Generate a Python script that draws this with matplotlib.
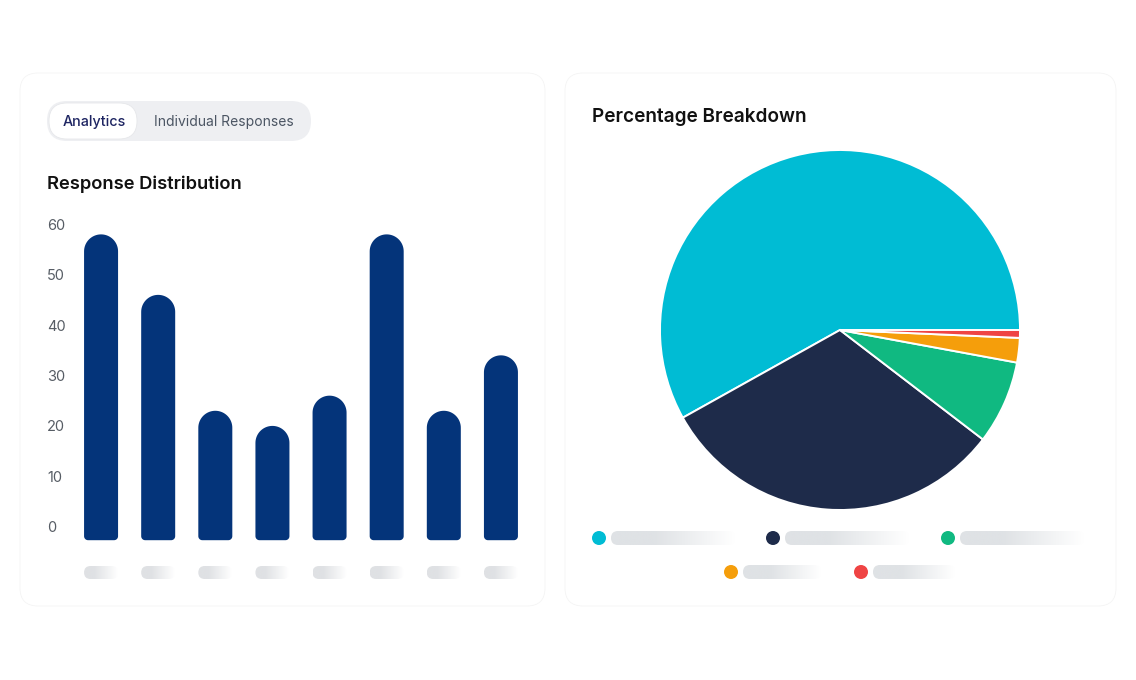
import matplotlib
matplotlib.use('Agg')
import matplotlib.pyplot as plt
import numpy as np
from matplotlib.patches import FancyBboxPatch, PathPatch, Circle
from matplotlib.path import Path
from matplotlib.transforms import IdentityTransform
from matplotlib.colors import to_rgba

plt.rcParams['font.family'] = ['Inter', 'DejaVu Sans']

# ---------------- data ----------------
bar_values = [58, 46, 23, 20, 26, 58, 23, 34]
y_ticks = [0, 10, 20, 30, 40, 50, 60]
pie_values = [58.1, 31.5, 7.5, 2.2, 0.7]
pie_colors = ['#00bcd4', '#1e2b4a', '#10b981', '#f59e0b', '#ef4444']
tab_labels = ['Analytics', 'Individual Responses']
bar_title = 'Response Distribution'
pie_title = 'Percentage Breakdown'

# ---------------- figure ----------------
W, H = 1136, 680
DPI = 100
fig = plt.figure(figsize=(W / DPI, H / DPI), dpi=DPI)
fig.patch.set_facecolor('white')

ov = fig.add_axes([0, 0, 1, 1], zorder=0)
ov.set_xlim(0, W)
ov.set_ylim(H, 0)
ov.axis('off')


def rrect(ax, x, y, w, h, r, **kw):
    p = FancyBboxPatch((x, y), w, h, boxstyle=f"round,pad=0,rounding_size={r}",
                       transform=ax.transData, **kw)
    ax.add_patch(p)
    return p


def grad_pill(ax, x, y, w, h, c0='#dcdfe3', c1='#ffffff', fade_start=0.35):
    n = 200
    t = np.linspace(0, 1, n)
    a = np.clip((t - fade_start) / (1 - fade_start), 0, 1)
    r0 = np.array(to_rgba(c0))
    r1 = np.array(to_rgba(c1))
    cols = r0[None, :] * (1 - a[:, None]) + r1[None, :] * a[:, None]
    img = cols[None, :, :]
    im = ax.imshow(img, extent=(x, x + w, y + h, y), aspect='auto',
                   interpolation='bilinear', zorder=2)
    clip = FancyBboxPatch((x, y), w, h, boxstyle=f"round,pad=0,rounding_size={h/2}",
                          transform=ax.transData, facecolor='none', edgecolor='none')
    ax.add_patch(clip)
    im.set_clip_path(clip)


# cards
rrect(ov, 20, 73, 525, 533, 18, facecolor='white', edgecolor='#f4f4f4', lw=0.6, zorder=0)
rrect(ov, 565, 73, 551, 533, 18, facecolor='white', edgecolor='#f4f4f4', lw=0.6, zorder=0)

# toggle
rrect(ov, 47, 101, 264, 40, 20, facecolor='#eeeff2', edgecolor='none', zorder=1)
rrect(ov, 49, 103, 88, 36, 18, facecolor='white', edgecolor='#e6e7ea', lw=0.6, zorder=1.5)
ov.text(94, 122, tab_labels[0], ha='center', va='center', fontsize=10.3,
        color='#1e2562', fontweight='medium', zorder=3)
ov.text(224, 122, tab_labels[1], ha='center', va='center', fontsize=10.0,
        color='#4b5563', zorder=3)

# titles
ov.text(47, 184, bar_title, ha='left', va='center', fontsize=13.2,
        fontweight='semibold', color='#111111', zorder=3)
ov.text(592, 117, pie_title, ha='left', va='center', fontsize=13.7,
        fontweight='semibold', color='#111111', zorder=3)

# ---------------- bar chart ----------------
ax_l, ax_r = 72.5, 529.5
ax_b, ax_t = 526.7, 224.3
ax = fig.add_axes([ax_l / W, (H - ax_b) / H, (ax_r - ax_l) / W, (ax_b - ax_t) / H], zorder=1)
ax.patch.set_alpha(0)
ax.set_xlim(-0.5, len(bar_values) - 0.5)
ax.set_ylim(0, 60)
for s in ax.spines.values():
    s.set_visible(False)
ax.set_xticks([])
ax.set_yticks(y_ticks)
ax.set_yticklabels([str(v) for v in y_ticks])
ax.tick_params(axis='y', length=0, pad=(ax_l - 47) * 72 / DPI, labelsize=10.5,
               labelcolor='#575d65')
for lbl in ax.get_yticklabels():
    lbl.set_ha('left')

bar_color = '#04347a'
half_w = 17.0
r_bot = 4.0
bottom_ext = 13.5


def bar_path(cx, yb, yt, hw, rb):
    pts = []
    th = np.linspace(np.pi, 1.5 * np.pi, 10)
    pts += list(zip(cx - hw + rb + rb * np.cos(th), yb + rb + rb * np.sin(th)))
    th = np.linspace(1.5 * np.pi, 2 * np.pi, 10)
    pts += list(zip(cx + hw - rb + rb * np.cos(th), yb + rb + rb * np.sin(th)))
    th = np.linspace(0, np.pi, 40)
    pts += list(zip(cx + hw * np.cos(th), yt - hw + hw * np.sin(th)))
    pts.append(pts[0])
    codes = [Path.MOVETO] + [Path.LINETO] * (len(pts) - 2) + [Path.CLOSEPOLY]
    return Path(pts, codes)


for i, v in enumerate(bar_values):
    cx, y0 = ax.transData.transform((i, 0))
    _, yt = ax.transData.transform((i, v))
    p = PathPatch(bar_path(cx, y0 - bottom_ext, yt, half_w, r_bot),
                  transform=IdentityTransform(), facecolor=bar_color,
                  edgecolor='none', clip_on=False, zorder=2)
    ax.add_artist(p)
    grad_pill(ov, cx - 17, 566, 34, 13, c0='#dfe1e4', fade_start=0.3)

# ---------------- pie chart ----------------
pcx, pcy, pr = 840, 330, 180
pax = fig.add_axes([(pcx - pr) / W, (H - pcy - pr) / H, 2 * pr / W, 2 * pr / H], zorder=1)
pax.pie(pie_values, colors=pie_colors, startangle=0, counterclock=True,
        wedgeprops=dict(edgecolor='white', linewidth=1.4))
pax.set_xlim(-1, 1)
pax.set_ylim(-1, 1)
pax.set_aspect('equal')
pax.axis('off')

# legend (placeholder labels)
legend_pos = [(599, 538, 124), (773, 538, 124), (948, 538, 124), (731, 572, 78), (861, 572, 82)]
for (x, y, w), c in zip(legend_pos, pie_colors):
    ov.add_patch(Circle((x, y), 7, facecolor=c, edgecolor='none', zorder=3))
    grad_pill(ov, x + 12, y - 7, w, 14, c0='#dfe2e5', fade_start=0.35)

ov.set_xlim(0, W)
ov.set_ylim(H, 0)

fig.savefig('out.png', dpi=DPI, facecolor='white')
